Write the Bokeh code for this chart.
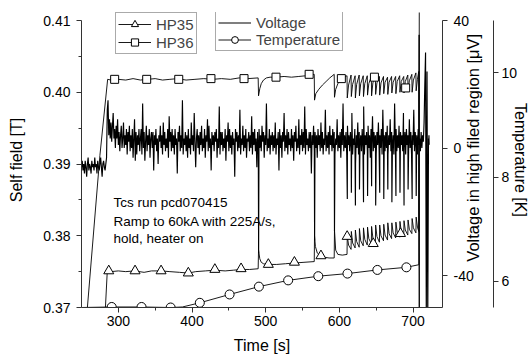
import numpy as np
from math import pi
from bokeh.plotting import figure
from bokeh.models import Range1d, LinearAxis, Legend, LegendItem, Label, FixedTicker
from bokeh.embed import file_html
from bokeh.resources import INLINE

FONT = "Liberation Sans"

# ---------------- data ----------------
x_ticks = [300, 400, 500, 600, 700]
x_minor = [350, 450, 550, 650]
left_ticks = [0.37, 0.38, 0.39, 0.40, 0.41]
left_labels = ["0.37", "0.38", "0.39", "0.40", "0.41"]
left_minor = [0.375, 0.385, 0.395, 0.405]
volt_ticks = [-40, 0, 40]
volt_labels = ["-40", "0", "40"]
temp_ticks = [6, 8, 10]
temp_labels = ["6", "8", "10"]

# axis extents shown in the reference
field_lo, field_hi = 0.37, 0.41
volt_lo, volt_hi = -50, 40
temp_lo, temp_hi = 5.5, 11.0

# HP36 (self field, T): ramp, hold and first heater events
hp36_t = [250, 258, 275, 285.5, 290, 300, 310, 320, 330, 340, 350, 360, 370, 380, 392, 404,
          416, 428, 440, 452, 464, 476, 489.8,
          490.3, 492, 494, 497, 501, 506, 514, 525, 535, 545, 555, 565.9,
          566.3, 568, 572, 577, 582, 587, 593.0,
          593.4, 595, 598, 602, 606, 610.4]
hp36_v = [0.3600, 0.3700, 0.3912, 0.4018, 0.4017, 0.4018, 0.4017, 0.4019, 0.4017, 0.4018, 0.4019,
          0.4017, 0.4018, 0.4019, 0.4017, 0.4018, 0.4019, 0.4018, 0.4019, 0.4018, 0.4020, 0.4019, 0.4020,
          0.3995, 0.4005, 0.4012, 0.4017, 0.4020, 0.4021, 0.4021, 0.4022, 0.4021, 0.4022, 0.4023, 0.4025,
          0.3989, 0.3998, 0.4004, 0.4010, 0.4015, 0.4020, 0.4025,
          0.3993, 0.4004, 0.4012, 0.4018, 0.4021, 0.4023]

# HP35 (self field, T)
hp35_t = [280.5, 285, 290, 300, 310, 322, 335, 345, 358, 370, 383, 395, 405, 418, 431, 445, 456,
          467, 478, 489.8,
          490.3, 492, 494, 497, 501, 506, 515, 527, 539, 552, 565.9,
          566.3, 567.5, 570, 575, 580, 586, 593.0,
          593.4, 595, 598, 604, 610.4]
hp35_v = [0.3660, 0.3751, 0.3750, 0.3751, 0.3750, 0.3751, 0.3749, 0.3751, 0.3751, 0.3750, 0.3749,
          0.3748, 0.3750, 0.3751, 0.3752, 0.3751, 0.3752, 0.3753, 0.3753, 0.3754,
          0.3780, 0.3768, 0.3763, 0.3761, 0.3760, 0.3760, 0.3760, 0.3761, 0.3762, 0.3763, 0.3764,
          0.3800, 0.3785, 0.3776, 0.3771, 0.3770, 0.3769, 0.3769,
          0.3808, 0.3780, 0.3774, 0.3773, 0.3774]

# periodic heater pulses (sawtooth section)
tooth_t = [610.5, 616, 621.5, 627, 632.5, 638, 643.5, 649, 654.5, 660, 665.5, 671, 676.5,
           682, 687.5, 693, 698.5, 704]
quench_t = 707.9
hp36_tooth_first = [0.3992, 0.3994, 0.3992, 0.3995, 0.3994, 0.3996, 0.3995, 0.3997, 0.3996,
                    0.3998, 0.3997, 0.3999, 0.3998, 0.4000, 0.3999, 0.4001, 0.4000, 0.4002]
hp36_tooth_mid = [0.4010, 0.4011, 0.4011, 0.4012, 0.4012, 0.4012, 0.4013, 0.4013, 0.4013,
                  0.4014, 0.4014, 0.4014, 0.4015, 0.4015, 0.4015, 0.4016, 0.4017, 0.4018]
hp36_tooth_last = [0.4024, 0.4023, 0.4024, 0.4023, 0.4023, 0.4022, 0.4023, 0.4022, 0.4022,
                   0.4021, 0.4022, 0.4022, 0.4023, 0.4022, 0.4024, 0.4025, 0.4027, 0.4029]
hp35_tooth_first = [0.3800, 0.3806, 0.3808, 0.3810, 0.3811, 0.3812, 0.3813, 0.3815, 0.3815,
                    0.3816, 0.3818, 0.3818, 0.3819, 0.3820, 0.3821, 0.3822, 0.3824, 0.3826]
hp35_tooth_mid = [0.3787, 0.3790, 0.3792, 0.3793, 0.3795, 0.3796, 0.3797, 0.3799, 0.3800,
                  0.3801, 0.3803, 0.3804, 0.3805, 0.3806, 0.3808, 0.3809, 0.3811, 0.3812]
hp35_tooth_last = [0.3781, 0.3783, 0.3784, 0.3786, 0.3787, 0.3789, 0.3790, 0.3791, 0.3793,
                   0.3794, 0.3796, 0.3797, 0.3798, 0.3800, 0.3801, 0.3803, 0.3804, 0.3806]

hp36_end_t = [708.4]
hp36_end_v = [0.3600]
hp35_end_t = [708.3, 708.8]
hp35_end_v = [0.4080, 0.3600]

# marker positions
hp36_mark_t = [295, 338.5, 382, 425.7, 470.6, 514, 559, 602.7, 647.6, 690]
hp36_mark_v = [0.4018, 0.4018, 0.4018, 0.4019, 0.4019, 0.4021, 0.4025, 0.4019, 0.4021, 0.4006]
hp35_mark_t = [287, 322.7, 358, 395, 431, 466.6, 503.6, 539, 575, 610.6, 646, 683]
hp35_mark_v = [0.3751, 0.3751, 0.3751, 0.3748, 0.3753, 0.3754, 0.3760, 0.3763, 0.3772,
               0.3799, 0.3789, 0.3803]

# temperature (K)
temp_t = [250, 291, 331.5, 371, 387, 410.6, 451, 490.8, 530.5, 571.4, 611, 651.6, 691, 707.9, 708.5]
temp_v = [5.50, 5.51, 5.51, 5.50, 5.51, 5.59, 5.75, 5.90, 6.02, 6.10, 6.15, 6.22, 6.27, 6.32, 11.5]
temp_mark_t = [291, 331.5, 371, 410.6, 451, 490.8, 530.5, 571.4, 611, 651.6, 691]
temp_mark_v = [5.51, 5.51, 5.50, 5.59, 5.75, 5.90, 6.02, 6.10, 6.15, 6.22, 6.27]

# voltage (uV), one reading per second from t = 250 s
volt_start = 250
volt_v = [
    -6, -4, -7, -5, -8, -4, -6, -9, -5, -3, -7, -5, -6, -8, -4, -6, -5, -7, -3, -6,
    -5, -8, -4, -6, -7, -5, -3, -6, -9, -5, -4, -6, -7, -5, -3, 12, 15, 4, 9, 3,
    8, 2, 7, 11, 3, 6, 0, 7, 3, 9, 1, 5, -1, 4, 7, 0, 3, 8, 0, 4,
    1, 6, -2, 5, 2, 7, -1, 4, 0, 6, -3, 3, 9, -4, 5, -2, 4, 1, 6, -1,
    3, 6, -2, 14, 0, 5, -4, 2, 7, -1, 4, 1, 6, -3, 3, 5, 0, 5, -7, 4,
    1, 6, -1, 3, -5, 4, 2, 7, 0, 4, -2, 8, 1, 5, -1, 3, 0, 6, -3, 10,
    2, 5, -1, 6, 0, 4, -2, 6, 1, 3, -8, 5, 2, 7, -1, 4, 0, 15, -2, 3,
    1, 5, -1, 4, -3, 6, 0, 3, -2, 8, 1, 4, -1, 11, 2, -6, 3, 6, 0, 4,
    -2, 5, 1, 7, -1, 3, 0, 6, -3, 4, 2, 9, -1, 7, 0, 3, -7, 5, 1, 4,
    -1, 5, 2, 6, -3, 3, 0, 13, -2, 5, 1, 5, -1, 3, 0, 6, -4, 4, 2, 8,
    -1, 6, 0, 4, -2, 5, 1, 3, -9, 6, 2, 5, -1, 4, 0, 12, -2, 3, 1, 7,
    -1, 4, 0, 6, -3, 3, 2, 5, -1, 4, 0, 10, -2, 5, 1, 6, -1, 3, -6, 5,
    -2, 6, 0, 4, -1, 7, 2, 5, -3, 4, 1, 14, -1, 3, 0, 6, -2, 4, 1, 5,
    -1, 4, 0, 8, -2, 3, 1, 5, -7, 6, 0, 4, -3, 5, 2, 11, -1, 4, 0, 6,
    -2, 5, 1, 3, -1, 6, 0, 4, -4, 5, 2, 7, -1, 3, 0, 9, -2, 4, 1, 6,
    -1, 5, 0, 13, -2, 6, 1, 3, -1, 5, 0, 5, -8, 4, 1, 7, -1, 5, 0, 4,
    -3, 6, 1, 4, -1, 8, 0, 5, -2, 3, 1, 12, -1, 4, 0, 5, -2, 7, 1, 4,
    -1, 6, 0, 5, -2, 3, 1, 9, -1, 4, 0, 5, -3, 6, 1, 14, -1, 4, 0, 5,
    -2, 7, 1, 4, -1, 5, 0, 11, -2, 3, 1, 6, -5, 4, 0, 8, -2, 5, 1, 4,
    -1, 6, 0, 13, -2, 4, 1, 5, -1, 7, 0, 4, -3, 6, 1, 10, -1, 5, 0, 4,
    -2, 5, 1, 8, -1, 4, 0, 6, -2, 12, 1, 4, -1, 5, 0, 7, -2, 4, 1, 9,
    -1, 5, 0, 4, -2, 14, 1, 6, -1, 4, 0, 7, -2, 5, 1, 4, -1, 11, 0, 5,
    -2, 6, 1, 4, -1, 9, 0, 5, -2, 4, 1, 12, -1, 5, 0, 4, -2, 6, 1, 3,
    -1, 5, 0, 4, 2, 8, 20, 30, -55, 24, -55, 3,
]
# heater-pulse spikes and final chatter in the voltage trace
volt_event_t = [490.4, 566.4, 593.4, 610.8, 616.3, 621.8, 627.3, 632.8, 638.3, 643.8, 649.3,
                654.8, 660.3, 665.8, 671.3, 676.8, 682.3, 687.8, 693.3, 698.8, 704.3,
                721.3, 721.6, 721.9]
volt_event_v = [-33, -29, -26, -16, -14, -18, -13, -17, -15, -12, -18, -14, -16, -13, -17,
                -15, -14, -18, -13, -16, -15, 1, 4, 1]

annot_lines = ["Tcs run pcd070415", "Ramp to 60kA with 225A/s,", "hold, heater on"]
volt_title = "Voltage in high filed region [\u03bcV]"
temp_title = "Temperature [K]"


# ---------------- build series ----------------
def with_teeth(base_t, base_v, first, mid, last, end_t, end_v):
    ts, vs = list(base_t), list(base_v)
    tooth_end = tooth_t[1:] + [quench_t]
    for k, t0 in enumerate(tooth_t):
        ts += [t0 + 0.25, t0 + 2.0, tooth_end[k] - 0.1]
        vs += [first[k], mid[k], last[k]]
    return ts + list(end_t), vs + list(end_v)


hp36_all_t, hp36_all_v = with_teeth(hp36_t, hp36_v, hp36_tooth_first, hp36_tooth_mid,
                                    hp36_tooth_last, hp36_end_t, hp36_end_v)
hp35_all_t, hp35_all_v = with_teeth(hp35_t, hp35_v, hp35_tooth_first, hp35_tooth_mid,
                                    hp35_tooth_last, hp35_end_t, hp35_end_v)

vt = np.concatenate([volt_start + np.arange(len(volt_v)), np.array(volt_event_t)])
vv = np.concatenate([np.array(volt_v, dtype=float), np.array(volt_event_v, dtype=float)])
order = np.argsort(vt, kind="stable")
vt, vv = vt[order], vv[order]

# ---------------- layout geometry ----------------
W, H = 532, 358
B_LEFT, B_RIGHT, B_TOP, B_BOTTOM = 81, 80, 12, 51
AXIS_TOP_GAP = 8      # px of empty frame above the axes' upper end (room for legends)
frame_h = H - B_TOP - B_BOTTOM
axis_h = frame_h - AXIS_TOP_GAP


def extend(lo, hi):
    return hi + (hi - lo) * AXIS_TOP_GAP / axis_h


p = figure(width=W, height=H, output_backend="svg", toolbar_location=None,
           x_range=Range1d(250, 740), y_range=Range1d(field_lo, extend(field_lo, field_hi)),
           min_border_left=B_LEFT, min_border_right=B_RIGHT, min_border_top=B_TOP,
           min_border_bottom=B_BOTTOM)
p.outline_line_color = None
p.xgrid.visible = False
p.ygrid.visible = False
p.background_fill_color = "white"
p.border_fill_color = "white"
p.extra_y_ranges = {"volt": Range1d(volt_lo, extend(volt_lo, volt_hi)),
                    "temp": Range1d(temp_lo, extend(temp_lo, temp_hi))}

AX = "#333333"


def style(ax):
    ax.axis_line_color = AX
    ax.major_tick_line_color = AX
    ax.minor_tick_line_color = AX
    ax.major_tick_in = 0
    ax.major_tick_out = 5
    ax.minor_tick_in = 0
    ax.minor_tick_out = 3
    ax.major_label_text_font = FONT
    ax.major_label_text_font_size = "14px"
    ax.major_label_text_color = "black"
    ax.axis_label_text_font = FONT
    ax.axis_label_text_font_size = "16px"
    ax.axis_label_text_font_style = "normal"
    ax.axis_label_text_color = "black"


xa = p.xaxis[0]
style(xa)
xa.ticker = FixedTicker(ticks=x_ticks, minor_ticks=x_minor)
xa.axis_label = "Time [s]"
xa.major_label_standoff = 3
xa.axis_label_standoff = 8

ya = p.yaxis[0]
style(ya)
ya.bounds = (field_lo, field_hi)
ya.ticker = FixedTicker(ticks=left_ticks, minor_ticks=left_minor)
ya.major_label_overrides = {t: s for t, s in zip(left_ticks, left_labels)}
ya.axis_label = "Self field [T]"
ya.major_label_standoff = 6
ya.axis_label_standoff = 15

va = LinearAxis(y_range_name="volt", ticker=FixedTicker(ticks=volt_ticks, minor_ticks=[]))
style(va)
va.bounds = (volt_lo, volt_hi)
va.major_label_overrides = {t: s for t, s in zip(volt_ticks, volt_labels)}
va.major_label_standoff = 6
va.axis_label_text_font_size = "16.5px"
va.axis_label_standoff = -4
try:
    # read bottom-to-top, starting near the lower end of the axis
    va.axis_label_align = "start"
    va.axis_label_orientation = pi / 2
    va.axis_label = "\u00a0" * 10 + volt_title
except Exception:
    va.axis_label = volt_title
p.add_layout(va, "right")

ta = LinearAxis(y_range_name="temp", ticker=FixedTicker(ticks=temp_ticks, minor_ticks=[]))
style(ta)
ta.bounds = (temp_lo, temp_hi)
ta.major_label_overrides = {t: s for t, s in zip(temp_ticks, temp_labels)}
ta.major_label_standoff = 3
ta.axis_label = temp_title
ta.axis_label_standoff = -8
p.add_layout(ta, "right")

# ---------------- glyphs ----------------
r_v = p.line(vt, vv, y_range_name="volt", line_color="black", line_width=1.15)
r_36 = p.line(hp36_all_t, hp36_all_v, line_color="black", line_width=0.9)
r_35 = p.line(hp35_all_t, hp35_all_v, line_color="black", line_width=0.9)
r_T = p.line(temp_t, temp_v, y_range_name="temp", line_color="black", line_width=0.9)
m_36 = p.scatter(hp36_mark_t, hp36_mark_v, marker="square", size=8, fill_color="white",
                 line_color="black", line_width=1)
m_35 = p.scatter(hp35_mark_t, hp35_mark_v, marker="triangle", size=10, fill_color="white",
                 line_color="black", line_width=1)
m_T = p.scatter(temp_mark_t, temp_mark_v, y_range_name="temp", marker="circle", size=9,
                fill_color="white", line_color="black", line_width=1)


def legend_style(lg, h):
    lg.border_line_color = "#555555"
    lg.border_line_width = 1
    lg.background_fill_color = "white"
    lg.background_fill_alpha = 1
    lg.padding = 2
    lg.spacing = 0
    lg.margin = 0
    lg.glyph_width = 33
    lg.glyph_height = h
    lg.label_height = h
    lg.label_standoff = 5
    lg.label_text_font = FONT
    lg.label_text_font_size = "15px"
    lg.label_text_baseline = "middle"


leg1 = Legend(items=[LegendItem(label="HP35", renderers=[r_35, m_35]),
                     LegendItem(label="HP36", renderers=[r_36, m_36])],
              location=(34, 253))
legend_style(leg1, 18)
p.add_layout(leg1)

leg2 = Legend(items=[LegendItem(label="Voltage", renderers=[r_v]),
                     LegendItem(label="Temperature", renderers=[r_T, m_T])],
              location=(134, 256))
legend_style(leg2, 17)
p.add_layout(leg2)

# annotation text
for line, yb in zip(annot_lines, [105, 86, 69.5]):
    p.add_layout(Label(x=32, y=yb, x_units="screen", y_units="screen", text=line,
                       text_font=FONT, text_font_size="13.5px", text_color="black",
                       text_baseline="alphabetic", text_align="left"))

open("out.html", "w").write(file_html(p, INLINE))
